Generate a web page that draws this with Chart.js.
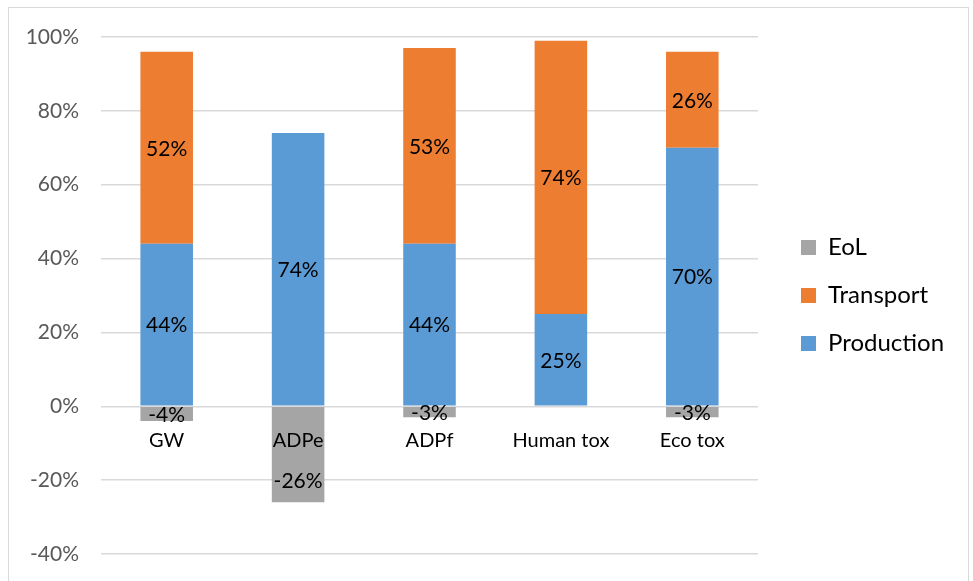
<!DOCTYPE html>
<html>
<head>
<meta charset="utf-8">
<script src="https://cdn.jsdelivr.net/npm/chart.js@4/dist/chart.umd.min.js"></script>
<style>
  html, body { margin: 0; padding: 0; background: #ffffff; }
  #wrap { position: relative; width: 973px; height: 581px; overflow: hidden; }
  #frame { position: absolute; left: 8px; top: 7px; width: 961px; height: 620px;
           border: 1.5px solid #d9d9d9; box-sizing: border-box; }
  #c { position: absolute; left: 0; top: 0; }
</style>
</head>
<body>
<div id="wrap">
  <div id="frame"></div>
  <canvas id="c" width="973" height="581"></canvas>
</div>
<script>
// Impact categories on the x axis
const categories = ['GW', 'ADPe', 'ADPf', 'Human tox', 'Eco tox'];

// Share of each life-cycle stage, in percent
const production = [44, 74, 44, 25, 70];
const transport  = [52, 0, 53, 74, 26];
const eol        = [-4, -26, -3, 0, -3];

// Value axis
const yMin = -40;
const yMax = 100;
const yStep = 20;

const FONT = 'Lato, "Open Sans", sans-serif';

// Writes each segment's value on its bar; tall negative bars get the
// label below the category names so the two do not overlap
const segmentLabels = {
  id: 'segmentLabels',
  afterDatasetsDraw(chart) {
    const ctx = chart.ctx;
    ctx.save();
    ctx.font = '21px ' + FONT;
    ctx.fillStyle = '#000000';
    ctx.textAlign = 'center';
    ctx.textBaseline = 'middle';
    chart.data.datasets.forEach((ds, di) => {
      const meta = chart.getDatasetMeta(di);
      meta.data.forEach((bar, i) => {
        const v = ds.data[i];
        if (!v) return;
        const p = bar.getProps(['x', 'y', 'base'], true);
        let ty = (p.y + p.base) / 2 + 1;
        if (v < 0 && p.y - p.base > 60) ty = p.base + 74;
        ctx.fillText(v + '%', p.x, ty);
      });
    });
    ctx.restore();
  }
};

// Gives the legend a fixed width so its column sits where it should
const legendWidth = {
  id: 'legendWidth',
  afterInit(chart) {
    const lg = chart.legend;
    if (!lg || lg._fixedFit) return;
    const fit = lg.fit.bind(lg);
    lg.fit = function () { fit(); this.width = 196; };
    lg._fixedFit = true;
  }
};

new Chart(document.getElementById('c'), {
  type: 'bar',
  data: {
    labels: categories,
    datasets: [
      { label: 'Production', data: production, backgroundColor: '#5B9BD5' },
      { label: 'Transport',  data: transport,  backgroundColor: '#ED7D31' },
      { label: 'EoL',        data: eol,        backgroundColor: '#A5A5A5' }
    ]
  },
  options: {
    responsive: false,
    animation: false,
    devicePixelRatio: 1,
    datasets: { bar: { barPercentage: 0.4, categoryPercentage: 1.0, borderWidth: 0 } },
    layout: { padding: { left: 0, right: 0, top: 37, bottom: 27 } },
    plugins: {
      tooltip: { enabled: false },
      legend: {
        position: 'right',
        reverse: true,
        labels: {
          boxWidth: 15,
          boxHeight: 15,
          padding: 24,
          color: '#000000',
          font: { family: FONT, size: 24 }
        }
      }
    },
    scales: {
      x: {
        stacked: true,
        position: { y: 0 },
        afterFit(scale) { scale.height = 0; },
        grid: { display: false, drawTicks: false },
        border: { display: false },
        ticks: { z: 1, autoSkip: false, maxRotation: 0, color: '#000000', padding: 22,
                 font: { family: FONT, size: 20 } }
      },
      y: {
        stacked: true,
        min: yMin,
        max: yMax,
        afterFit(scale) {
          scale.width = 101;
          scale.paddingTop = 0;
          scale.paddingBottom = 0;
        },
        grid: { color: '#d9d9d9', lineWidth: 1.5, drawTicks: false },
        border: { display: false },
        ticks: {
          stepSize: yStep,
          padding: 22,
          color: '#595959',
          font: { family: FONT, size: 21 },
          callback: v => v + '%'
        }
      },
      // empty right-hand axis that only keeps a gap before the legend
      gap: {
        type: 'linear',
        position: 'right',
        afterFit(scale) { scale.width = 19; scale.paddingTop = 0; scale.paddingBottom = 0; },
        grid: { display: false, drawTicks: false },
        border: { display: false },
        ticks: { display: false }
      }
    }
  },
  plugins: [segmentLabels, legendWidth]
});
</script>
</body>
</html>
